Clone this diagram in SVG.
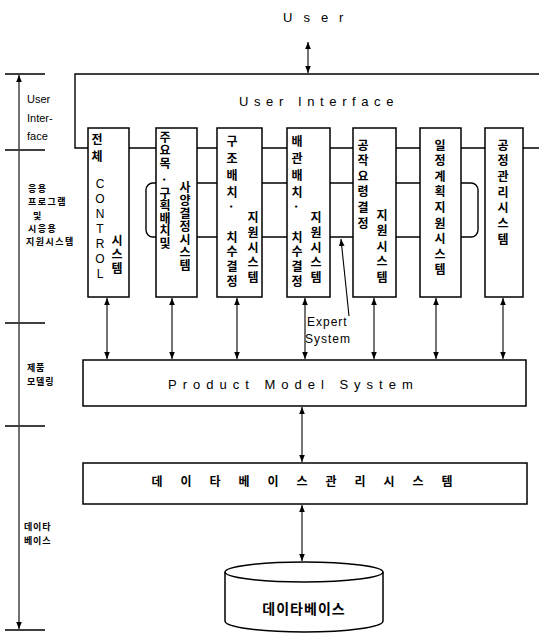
<svg xmlns="http://www.w3.org/2000/svg" width="539" height="634" viewBox="0 0 539 634">
<style>
.ln{stroke:#000;stroke-width:1.4;fill:none}
.thin{stroke:#000;stroke-width:1.1;fill:none}
.box{fill:#fff;stroke:#000;stroke-width:1.5}
.k{font-family:"Noto Sans CJK KR",sans-serif;font-weight:bold;font-size:12px;fill:#000}
.v{font-family:"Noto Sans CJK KR",sans-serif;font-weight:bold;font-size:12px;fill:#000;writing-mode:vertical-rl}
.vc{font-family:"Liberation Sans",Arial,sans-serif;font-size:12px;fill:#000;writing-mode:vertical-rl;text-orientation:upright}
.e{font-family:"Liberation Sans",Arial,sans-serif;fill:#000}
.lk{font-family:"Noto Sans CJK KR",sans-serif;font-weight:bold;fill:#000}
</style>
<defs>
<marker id="ah" viewBox="0 0 10 10" refX="10" refY="5" markerWidth="7" markerHeight="7" orient="auto-start-reverse" markerUnits="userSpaceOnUse"><path d="M0,1 L10,5 L0,9 z" fill="#000"/></marker>
</defs>
<rect width="539" height="634" fill="#fff"/>

<!-- left dimension scale -->
<g id="scale">
<path class="ln" d="M5,74 H45 M5,150 H45 M5,323 H45 M5,426 H45 M5,630 H45"/>
<path class="thin" d="M19,75 V149 M19,151 V322 M19,324 V425 M19,427 V629" marker-start="url(#ah)" marker-end="url(#ah)"/>
<text class="e" font-size="11" x="27" y="103">User</text>
<text class="e" font-size="11" x="27" y="122">Inter-</text>
<text class="e" font-size="11" x="27" y="140">face</text>
<g class="lk" font-size="9" letter-spacing="1.5">
<text x="28" y="192">응용</text>
<text x="28" y="205">프로그램</text>
<text x="33" y="219">및</text>
<text x="28" y="232">시응용</text>
<text x="26" y="245">지원시스템</text>
</g>
<g class="lk" font-size="9" letter-spacing="0.8">
<text x="27" y="371">제품</text>
<text x="27" y="385">모델링</text>
<text x="24" y="530">데이타</text>
<text x="24" y="544">베이스</text>
</g>
</g>

<!-- user -->
<g id="user"><text class="e" font-size="13" x="283" y="22" letter-spacing="11">User</text></g>

<!-- user interface -->
<g id="user-interface">
<path class="ln" d="M539,74 H75 V148 H539"/>
<text class="e" font-size="13" x="239" y="106" letter-spacing="5.6">User Interface</text>
</g>

<!-- bracket lines behind boxes -->
<g id="bracket"><rect class="ln" x="146" y="183" width="332" height="54" rx="7"/></g>

<g id="box1">
<rect class="box" x="88" y="128" width="41" height="169"/>
<text class="v" x="97" y="133" letter-spacing="5">전체</text>
<text class="vc" x="100" y="177" letter-spacing="1">CONTROL</text>
<text class="v" x="117" y="234" letter-spacing="2">시스템</text>
</g>

<g id="box2">
<rect class="box" x="156" y="128" width="41" height="169"/>
<text class="v" x="165" y="131" letter-spacing="1">주요목</text>
<text class="v" x="165" y="176">·</text>
<text class="v" x="165" y="187" letter-spacing="0.5">구획배치및</text>
<text class="v" x="185" y="181" letter-spacing="1">사양결정시스템</text>
</g>

<g id="box3">
<rect class="box" x="217" y="128" width="45" height="169"/>
<text class="v" x="232" y="135" letter-spacing="5">구조배치·</text>
<text class="v" x="232" y="231" letter-spacing="2.7">치수결정</text>
<text class="v" x="253" y="211" letter-spacing="3">지원시스템</text>
</g>

<g id="box4">
<rect class="box" x="287" y="128" width="43" height="169"/>
<text class="v" x="297" y="135" letter-spacing="5">배관배치·</text>
<text class="v" x="297" y="231" letter-spacing="2.7">치수결정</text>
<text class="v" x="316" y="211" letter-spacing="3">지원시스템</text>
</g>

<g id="box5">
<rect class="box" x="353" y="128" width="43" height="169"/>
<text class="v" x="363" y="139" letter-spacing="3.6">공작요령결정</text>
<text class="v" x="382" y="209" letter-spacing="3.5">지원시스템</text>
</g>

<g id="box6">
<rect class="box" x="420" y="128" width="41" height="169"/>
<text class="v" x="440" y="139" letter-spacing="3.6">일정계획지원시스템</text>
</g>

<g id="box7">
<rect class="box" x="485" y="128" width="38" height="169"/>
<text class="v" x="503" y="139" letter-spacing="3.7">공정관리시스템</text>
</g>

<g id="product-model">
<rect class="box" x="83" y="360" width="443" height="46"/>
<text class="e" font-size="13" x="168" y="389" letter-spacing="6">Product Model System</text>
</g>

<g id="dbms">
<rect class="box" x="83" y="463" width="444" height="41"/>
<text class="k" font-size="13" text-anchor="middle" x="157 186 215 244 273 302 331 360 389 418 447" y="486">데이타베이스관리시스템</text>
</g>

<g id="database">
<path class="box" d="M225,572 V621 A79,11 0 0 0 383,621 V572"/>
<ellipse class="box" cx="304" cy="572" rx="79" ry="10"/>
<text class="lk" font-size="14" x="304" y="614" text-anchor="middle" letter-spacing="1">데이타베이스</text>
</g>

<g id="expert-label">
<text class="e" font-size="12" x="307" y="326" letter-spacing="1">Expert</text>
<text class="e" font-size="12" x="305" y="343" letter-spacing="1">System</text>
</g>

<g id="connectors">
<path class="thin" d="M308,42 V73" marker-start="url(#ah)" marker-end="url(#ah)"/>
<g marker-start="url(#ah)" marker-end="url(#ah)">
<path class="thin" d="M107,298 V359"/>
<path class="thin" d="M172,298 V359"/>
<path class="thin" d="M237,298 V359"/>
<path class="thin" d="M305,298 V359"/>
<path class="thin" d="M374,298 V359"/>
<path class="thin" d="M436,298 V359"/>
<path class="thin" d="M503,298 V359"/>
<path class="thin" d="M302,407 V462"/>
<path class="thin" d="M302,505 V561"/>
</g>
<path class="thin" d="M349,316 L341,239" marker-end="url(#ah)"/>
</g>
</svg>
